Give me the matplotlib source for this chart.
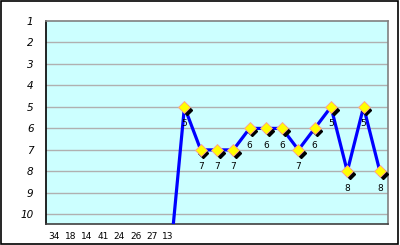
import numpy as np
import matplotlib.pyplot as plt
from matplotlib.patches import Rectangle
from matplotlib.transforms import offset_copy

# weekly ranks (lower is better), first eight are off the chart
ranks = [34, 18, 14, 41, 24, 26, 27, 13, 5, 7, 7, 7, 6, 6, 6, 7, 6, 5, 8, 5, 8]
y_ticks = [1, 2, 3, 4, 5, 6, 7, 8, 9, 10]

x = np.arange(len(ranks))
ranks = np.array(ranks)
y_bottom = 10.45

fig = plt.figure(figsize=(4, 2.45), dpi=100)
fig.patch.set_facecolor('white')
# outer chart border
fig.patches.append(Rectangle((0.0015, 0.003), 0.994, 0.994, transform=fig.transFigure,
                             fill=False, edgecolor='black', linewidth=1.2))

ax = fig.add_axes([46/400, 1 - 224/245, (388 - 46)/400, (224 - 21)/245])
ax.set_facecolor('#ccffff')
ax.set_xlim(-0.5, len(ranks) - 0.5)
ax.set_ylim(y_bottom, 1)

for v in y_ticks[1:]:
    ax.axhline(v, color='#b0b0b0', lw=1.0, zorder=1)

ax.plot(x, ranks, color='#0000ff', lw=2.3, zorder=3)

# markers with a dark shadow to the lower right
vis = ranks <= y_bottom
shadow = offset_copy(ax.transData, fig=fig, x=2.0, y=-2.0, units='points')
ax.plot(x[vis], ranks[vis], 'D', ms=5.5, color='black', transform=shadow, zorder=4)
ax.plot(x[vis], ranks[vis], 'D', ms=6.5, mfc='#ffff00', mec='#ff9999', mew=0.6, zorder=5)

# value labels
for xi, v in zip(x, ranks):
    if v <= y_bottom:
        ax.annotate(str(v), (xi, v), xytext=(0, -12), textcoords='offset points',
                    ha='center', va='center', fontsize=6.5, zorder=6)
    else:
        ax.annotate(str(v), (xi, y_bottom), xytext=(0, -9), textcoords='offset points',
                    ha='center', va='center', fontsize=6.5, annotation_clip=False)

ax.set_yticks(y_ticks)
ax.set_yticklabels([str(v) for v in y_ticks], fontsize=7.5, style='italic')
ax.set_xticks([])
ax.tick_params(axis='y', length=0, pad=9)

ax.spines['left'].set_color('black')
ax.spines['bottom'].set_color('#404040')
ax.spines['top'].set_color('#808080')
ax.spines['right'].set_color('#808080')
for s in ax.spines.values():
    s.set_linewidth(1.2)

fig.savefig('out.png', dpi=100)
